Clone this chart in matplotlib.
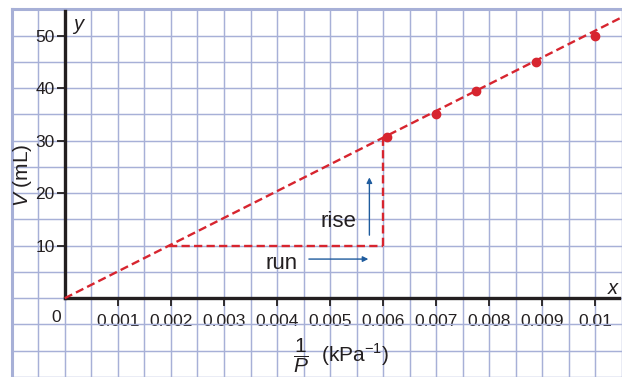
import numpy as np
import matplotlib.pyplot as plt

plt.rcParams['font.family'] = ['Liberation Sans', 'DejaVu Sans']
plt.rcParams['mathtext.fontset'] = 'custom'
plt.rcParams['mathtext.rm'] = 'Liberation Sans'
plt.rcParams['mathtext.it'] = 'Liberation Sans:italic'

# data
inv_p = [0.00607, 0.00700, 0.00775, 0.00888, 0.0100]
volume = [30.6, 35.0, 39.4, 45.0, 50.0]

line_x = [0.0, 0.0105]
line_y = [0.0, 53.5]

run_x = [0.00197, 0.0060]
run_y = [10.0, 10.0]
rise_x = [0.0060, 0.0060]
rise_y = [10.0, 30.4]

xticks = [0.001, 0.002, 0.003, 0.004, 0.005, 0.006, 0.007, 0.008, 0.009, 0.010]
xtick_labels = ['0.001', '0.002', '0.003', '0.004', '0.005', '0.006', '0.007', '0.008', '0.009', '0.01']
yticks = [10, 20, 30, 40, 50]

red = '#d7252f'
blue = '#1f5c9e'
grid_c = '#a7b0d7'
ink = '#231f20'

fig = plt.figure(figsize=(6.22, 3.77), dpi=100)
ax = fig.add_axes([11.7 / 622, 0, 1 - 11.7 / 622, (377 - 9.3) / 377])
ax.set_xlim(-0.001, 0.010444)
ax.set_ylim(-14, 55)

# graph paper grid
ax.set_xticks(np.arange(-0.001, 0.0106, 0.0005), minor=True)
ax.set_yticks(np.arange(-15, 56, 5), minor=True)
ax.tick_params(which='minor', length=0)
ax.grid(which='both', color=grid_c, linewidth=1.05, zorder=0)
ax.set_axisbelow(True)
for s in ['top', 'right']:
    ax.spines[s].set_visible(False)
ax.axhline(55, color=grid_c, linewidth=2.2, zorder=1, clip_on=False)
ax.axvline(-0.001, color=grid_c, linewidth=2.2, zorder=1, clip_on=False)

# axes through the origin
ax.spines['left'].set_position(('data', 0))
ax.spines['bottom'].set_position(('data', 0))
ax.spines['left'].set_bounds(0, 54.6)
ax.spines['bottom'].set_bounds(0, 0.010444)
for s in ['left', 'bottom']:
    ax.spines[s].set_color(ink)
    ax.spines[s].set_linewidth(2.4)
    ax.spines[s].set_zorder(3)

ax.set_xticks(xticks)
ax.set_xticklabels(xtick_labels, fontsize=12.5, color=ink)
ax.set_yticks(yticks)
ax.set_yticklabels([str(v) for v in yticks], fontsize=12.5, color=ink)
ax.tick_params(which='major', direction='out', length=6, width=1.3, color=ink)
ax.tick_params(axis='x', pad=5.5)
ax.tick_params(axis='y', pad=1.2)

# fitted line, rise and run
ax.plot(line_x, line_y, color=red, linewidth=1.7, dashes=(3.5, 1.8), zorder=4)
ax.plot(run_x, run_y, color=red, linewidth=1.7, dashes=(3.5, 1.8), zorder=4)
ax.plot(rise_x, rise_y, color=red, linewidth=1.7, dashes=(3.5, 1.8), zorder=4)
ax.plot(inv_p, volume, 'o', color=red, markersize=6, zorder=5)

ax.annotate('', xy=(0.00572, 7.45), xytext=(0.00460, 7.45),
            arrowprops=dict(arrowstyle='-|>', color=blue, lw=1.0, mutation_scale=8,
                            shrinkA=0, shrinkB=0))
ax.annotate('', xy=(0.00574, 23.0), xytext=(0.00574, 12.0),
            arrowprops=dict(arrowstyle='-|>', color=blue, lw=1.0, mutation_scale=8,
                            shrinkA=0, shrinkB=0))
ax.text(0.00515, 14.6, 'rise', fontsize=16, color=ink, ha='center', va='center')
ax.text(0.00409, 6.6, 'run', fontsize=16, color=ink, ha='center', va='center')

# labels
ax.text(-0.000156, -3.6, '0', fontsize=12.5, color=ink, ha='center', va='center')
ax.text(0.000244, 52.2, 'y', fontsize=14.5, style='italic', color=ink, ha='center', va='center')
ax.text(0.01032, 1.9, 'x', fontsize=14.5, style='italic', color=ink, ha='center', va='center')
ax.text(-0.00080, 23.3, r'$V$ (mL)', fontsize=15, color=ink, rotation=90,
        ha='center', va='center')
ax.text(0.00521, -11.0, r'$\dfrac{1}{P}$  (kPa$^{-1}$)', fontsize=15, color=ink,
        ha='center', va='center')

fig.savefig('out.png', dpi=100)
